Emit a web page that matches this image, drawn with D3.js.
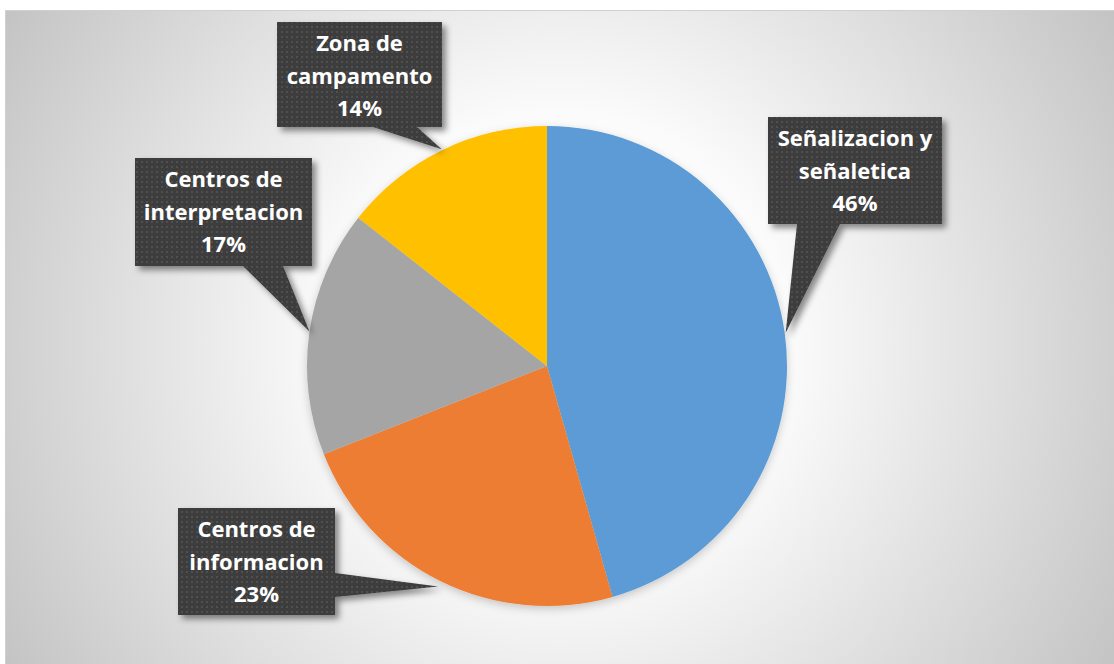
<!DOCTYPE html>
<html>
<head>
<meta charset="utf-8">
<script src="https://cdn.jsdelivr.net/npm/d3@7"></script>
<style>
  html, body { margin: 0; padding: 0; background: #ffffff; }
  svg { display: block; }
</style>
</head>
<body>
<svg id="chart" width="1114" height="664"></svg>
<script>
// ---- data ----
const categories = ["Señalizacion y señaletica", "Centros de informacion", "Centros de interpretacion", "Zona de campamento"];
const values = [45.6, 23.4, 16.6, 14.4];
const labelLines = [["Señalizacion y", "señaletica"], ["Centros de", "informacion"], ["Centros de", "interpretacion"], ["Zona de", "campamento"]];
const colors = ["#5B9BD5", "#ED7D31", "#A5A5A5", "#FFC000"];

// ---- layout ----
const W = 1114, H = 664;
const cx = 547, cy = 366, R = 240;
const boxes = [
  {x: 768, y: 117, w: 174, h: 107, side: "bottom", b0: 797, b1: 840},
  {x: 178, y: 508, w: 157, h: 107, side: "right", b0: 573, b1: 597},
  {x: 135, y: 158, w: 177, h: 108, side: "bottom", b0: 243, b1: 283},
  {x: 277, y: 22, w: 165, h: 105, side: "bottom", b0: 373, b1: 417}
];
const tipRadius = [R + 1, R + 6, R, R + 1];

const svg = d3.select("#chart");
const defs = svg.append("defs");

const grad = defs.append("radialGradient").attr("id", "bg")
  .attr("gradientUnits", "userSpaceOnUse")
  .attr("cx", 560).attr("cy", 340).attr("r", 650);
grad.append("stop").attr("offset", 0).attr("stop-color", "#ffffff");
grad.append("stop").attr("offset", 0.35).attr("stop-color", "#fbfbfb");
grad.append("stop").attr("offset", 1).attr("stop-color", "#c3c3c3");

const pat = defs.append("pattern").attr("id", "dots")
  .attr("patternUnits", "userSpaceOnUse").attr("width", 5).attr("height", 5);
pat.append("rect").attr("width", 5).attr("height", 5).attr("fill", "#3c3c3c");
pat.append("rect").attr("x", 1).attr("y", 1).attr("width", 2).attr("height", 2).attr("fill", "#4f4f4f");

const sh = defs.append("filter").attr("id", "shadow").attr("x", "-20%").attr("y", "-20%").attr("width", "150%").attr("height", "150%");
sh.append("feDropShadow").attr("dx", 4).attr("dy", 4).attr("stdDeviation", 3)
  .attr("flood-color", "#000").attr("flood-opacity", 0.45);

const psh = defs.append("filter").attr("id", "pieShadow").attr("x", "-20%").attr("y", "-20%").attr("width", "140%").attr("height", "140%");
psh.append("feDropShadow").attr("dx", 0).attr("dy", 3).attr("stdDeviation", 4)
  .attr("flood-color", "#000").attr("flood-opacity", 0.2);

// background
svg.append("rect").attr("x", 5).attr("y", 10).attr("width", W - 5).attr("height", H - 10)
  .attr("fill", "url(#bg)");
svg.append("rect").attr("x", 5.5).attr("y", 10.5).attr("width", W - 5).attr("height", H - 10)
  .attr("fill", "none").attr("stroke", "#d0d0d0").attr("stroke-width", 1);

// pie
const pie = d3.pie().sort(null).value(d => d)(values);
const arc = d3.arc().innerRadius(0).outerRadius(R);
const g = svg.append("g").attr("transform", `translate(${cx},${cy})`).attr("filter", "url(#pieShadow)");
g.selectAll("path").data(pie).join("path")
  .attr("d", arc)
  .attr("fill", (d, i) => colors[i]);

// callouts
const total = d3.sum(values);
const fmt = v => Math.round(v / total * 100) + "%";
pie.forEach((d, i) => {
  const b = boxes[i];
  const mid = (d.startAngle + d.endAngle) / 2;
  const tx = cx + tipRadius[i] * Math.sin(mid);
  const ty = cy - tipRadius[i] * Math.cos(mid);
  let p;
  const x0 = b.x, y0 = b.y, x1 = b.x + b.w, y1 = b.y + b.h;
  if (b.side === "bottom") {
    p = `M${x0},${y0}H${x1}V${y1}H${b.b1}L${tx},${ty}L${b.b0},${y1}H${x0}Z`;
  } else {
    p = `M${x0},${y0}H${x1}V${b.b0}L${tx},${ty}L${x1},${b.b1}V${y1}H${x0}Z`;
  }
  svg.append("path").attr("d", p).attr("fill", "url(#dots)").attr("filter", "url(#shadow)");
  const lines = labelLines[i].concat([fmt(values[i])]);
  const t = svg.append("text")
    .attr("x", b.x + b.w / 2).attr("y", b.y + 29)
    .attr("text-anchor", "middle")
    .attr("font-family", "'Open Sans', sans-serif")
    .attr("font-weight", "bold")
    .attr("font-size", 22)
    .attr("fill", "#ffffff");
  lines.forEach((ln, j) => {
    t.append("tspan").attr("x", b.x + b.w / 2).attr("dy", j === 0 ? 0 : 32.5).text(ln);
  });
});
</script>
</body>
</html>
